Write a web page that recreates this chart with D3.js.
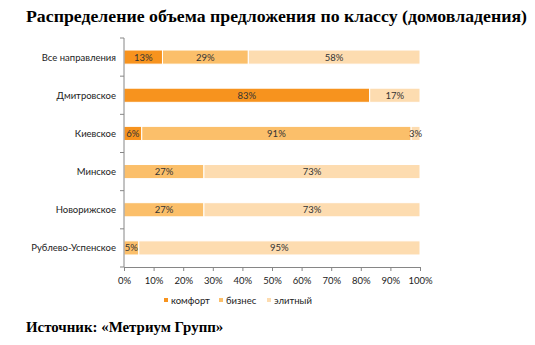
<!DOCTYPE html>
<html><head><meta charset="utf-8">
<script src="https://cdn.jsdelivr.net/npm/d3@7"></script>
<style>body{margin:0;background:#fff}svg{display:block}</style>
</head><body>
<svg id="c" width="535" height="345"></svg>
<script>
const categories = ["Все направления","Дмитровское","Киевское","Минское","Новорижское","Рублево-Успенское"];
const seriesNames = ["комфорт","бизнес","элитный"];
const comfort = [13,83,6,0,0,0];
const business = [29,0,91,27,27,5];
const elite = [58,17,3,73,73,95];
const xTicks = [0,10,20,30,40,50,60,70,80,90,100];
const colors = ["#F7931E","#FBBF6A","#FDDCB0"];
const title = "Распределение объема предложения по классу (домовладения)";
const source = "Источник: «Метриум Групп»";

(function(){
const svg = d3.select("#c");
const mLeft = 124, mRight = 420, mTop = 38, mBottom = 267;
const x = d3.scaleLinear().domain([0,100]).range([mLeft,mRight]);
const y = d3.scaleBand().domain(categories).range([mTop,mBottom]).paddingInner(0.63).paddingOuter(0.315);

svg.append("text").attr("x",26).attr("y",22).attr("textLength",501).attr("lengthAdjust","spacingAndGlyphs")
  .attr("font-family","Liberation Serif").attr("font-weight","bold").attr("font-size",17.6)
  .attr("fill","#000").text(title);

const data = categories.map((c,i)=>({cat:c, vals:[comfort[i],business[i],elite[i]]}));
data.forEach(d=>{
  let acc=0;
  d.vals.forEach((v,j)=>{
    const x0=acc; acc+=v;
    if(v<=0) return;
    svg.append("rect").attr("x",x(x0)).attr("y",y(d.cat)).attr("width",x(acc)-x(x0)).attr("height",y.bandwidth())
      .attr("fill",colors[j]).attr("stroke","#fff").attr("stroke-width",1);
    svg.append("text").attr("x",(x(x0)+x(acc))/2).attr("y",y(d.cat)+y.bandwidth()/2+3.5)
      .attr("text-anchor","middle").attr("font-family","Lato, Open Sans, sans-serif").attr("font-size",9.5)
      .attr("fill","#333").text(v+"%");
  });
});

const axisColor="#868686";
svg.append("line").attr("x1",mLeft).attr("x2",mLeft).attr("y1",mTop).attr("y2",mBottom).attr("stroke",axisColor);
const step = (mBottom-mTop)/categories.length;
d3.range(categories.length+1).forEach(i=>{
  const yy = mTop+i*step;
  svg.append("line").attr("x1",mLeft-4).attr("x2",mLeft).attr("y1",yy).attr("y2",yy).attr("stroke",axisColor);
});
categories.forEach(c=>{
  svg.append("text").attr("x",mLeft-8).attr("y",y(c)+y.bandwidth()/2+3.5).attr("text-anchor","end")
    .attr("font-family","Lato, Open Sans, sans-serif").attr("font-size",9.5).attr("fill","#222").text(c);
});
const xa = svg.append("g").attr("transform",`translate(0,${mBottom})`)
  .call(d3.axisBottom(x).tickValues(xTicks).tickSize(4).tickFormat(d=>d+"%"));
xa.select(".domain").attr("stroke",axisColor);
xa.selectAll(".tick line").attr("stroke",axisColor);
xa.selectAll("text").attr("font-family","Lato, Open Sans, sans-serif").attr("font-size",9.5).attr("fill","#222").attr("dy","1.1em");

const legX=[164,219,267];
seriesNames.forEach((n,i)=>{
  svg.append("rect").attr("x",legX[i]).attr("y",298).attr("width",4).attr("height",4).attr("fill",colors[i]);
  svg.append("text").attr("x",legX[i]+7).attr("y",303.5).attr("font-family","Lato, Open Sans, sans-serif")
    .attr("font-size",9.5).attr("fill","#222").text(n);
});

svg.append("text").attr("x",26).attr("y",332).attr("font-family","Liberation Serif").attr("font-weight","bold")
  .attr("font-size",14.9).attr("fill","#000").text(source);
})();
</script>
</body></html>
